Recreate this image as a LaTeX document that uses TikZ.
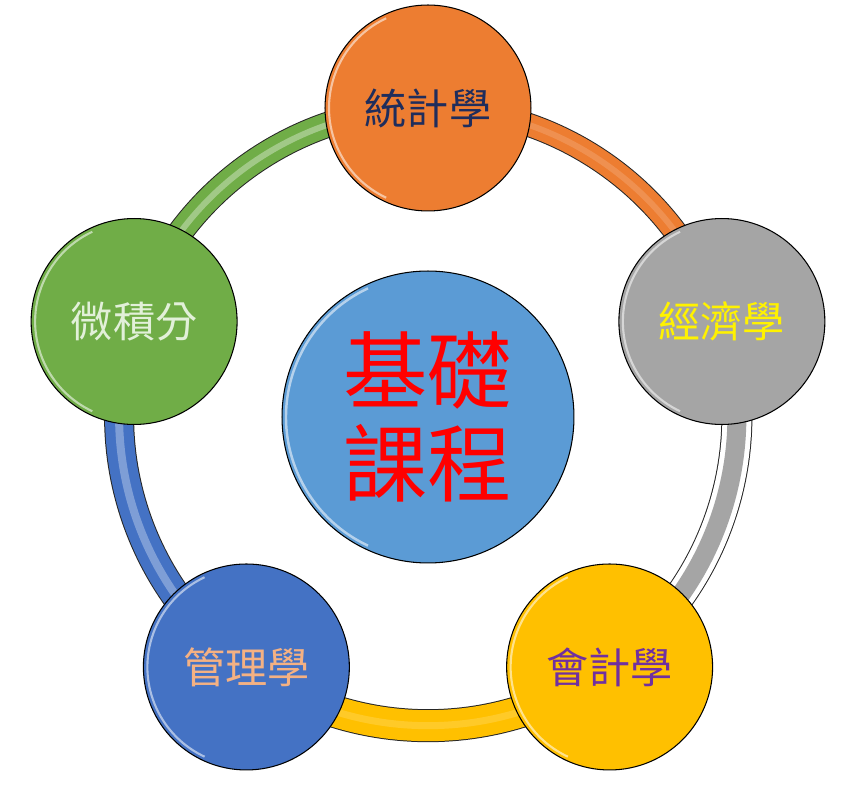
\documentclass[tikz,border=0pt]{standalone}
\usepackage{fontspec}
\newfontfamily\cjk{Noto Sans CJK TC}
\usetikzlibrary{backgrounds}
\definecolor{orangeA}{HTML}{ED7D31}
\definecolor{greyA}{HTML}{A5A5A5}
\definecolor{yellowA}{HTML}{FFC000}
\definecolor{blueA}{HTML}{4472C4}
\definecolor{greenA}{HTML}{70AD47}
\definecolor{blueL}{HTML}{5B9BD5}
\definecolor{navyT}{HTML}{1F2D5C}
\definecolor{purpleT}{HTML}{7030A0}
\definecolor{peachT}{HTML}{F4B183}
\definecolor{mintT}{HTML}{E2F0D9}
\begin{document}
\begin{tikzpicture}[x=0.02cm,y=0.02cm,font=\cjk\fontsize{24pt}{28pt}\selectfont]
\useasboundingbox (-428,-370) rectangle (435,417);
\begin{scope}[every node/.style={circle,draw=black,line width=0.6pt,minimum size=4.12cm,inner sep=0pt}]
	\node[fill=orangeA,text=navyT] (stat) at (90:309) {統計學};
	\node[fill=greyA,text=yellow] (econ) at (18:309) {經濟學};
	\node[fill=yellowA,text=purpleT] (acct) at (-54:309) {會計學};
	\node[fill=blueA,text=peachT] (mgmt) at (-126:309) {管理學};
	\node[fill=greenA,text=mintT] (calc) at (162:309) {微積分};
\end{scope}
\node[circle,draw=black,line width=0.6pt,fill=blueL,minimum size=5.84cm,inner sep=0pt,align=center,text=red,font=\cjk\fontsize{48pt}{53pt}\selectfont] (core) at (0,0) {基礎\\課程};

% ring behind the circles
\begin{scope}[on background layer,every edge/.style={draw=black!85,bend left=36,looseness=0.94}]
	\path (stat.center) edge [line width=0.48cm] (econ.center);
	\path (econ.center) edge [line width=0.62cm] (acct.center);
	\path (acct.center) edge [line width=0.66cm] (mgmt.center);
	\path (mgmt.center) edge [line width=0.6cm] (calc.center);
	\path (calc.center) edge [line width=0.52cm] (stat.center);
\end{scope}
\begin{scope}[on background layer,every edge/.style={bend left=36,looseness=0.94}]
	\path (stat.center) edge [draw=orangeA,line width=0.44cm] (econ.center);
	\path (econ.center) edge [draw=white,line width=0.58cm] (acct.center);
	\path (econ.center) edge [draw=greyA,line width=0.38cm] (acct.center);
	\path (acct.center) edge [draw=yellowA,line width=0.62cm] (mgmt.center);
	\path (mgmt.center) edge [draw=blueA,line width=0.56cm] (calc.center);
	\path (calc.center) edge [draw=greenA,line width=0.48cm] (stat.center);
	% soft glints
	\path (stat.center) edge [draw=orangeA!70!white,line width=0.12cm,opacity=.5] (econ.center);
	\path (acct.center) edge [draw=yellowA!60!white,line width=0.14cm,opacity=.4] (mgmt.center);
	\path (mgmt.center) edge [draw=blueA!55!white,line width=0.16cm,opacity=.7] (calc.center);
	\path (calc.center) edge [draw=greenA!50!white,line width=0.12cm,opacity=.7] (stat.center);
\end{scope}

% glossy rims
\foreach \n in {stat,econ,acct,mgmt,calc}
	\draw[white,opacity=.55,line width=1.2pt] ([shift={(115:1.98cm)}]\n.center) arc[start angle=115,end angle=245,radius=1.98cm];
\draw[white,opacity=.55,line width=1.4pt] ([shift={(115:2.84cm)}]core.center) arc[start angle=115,end angle=245,radius=2.84cm];
\end{tikzpicture}
\end{document}
